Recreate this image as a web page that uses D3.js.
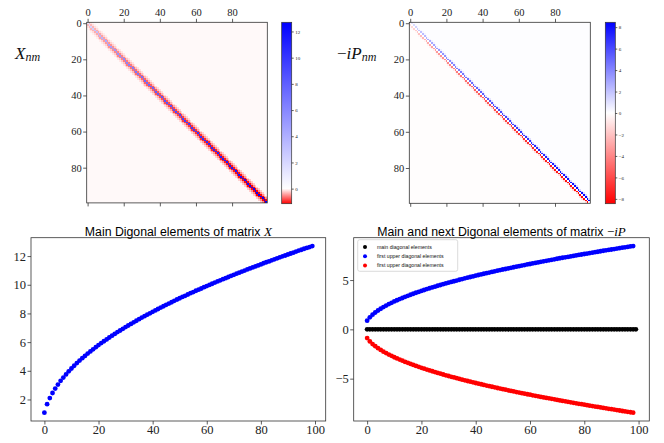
<!DOCTYPE html>
<html>
<head>
<meta charset="utf-8">
<script src="https://cdn.jsdelivr.net/npm/d3@7"></script>
<style>
    body { margin: 0; background: #fff; }
</style>
</head>
<body>
<div id="viz"></div>
<script>
// main diagonal of X (also the blue series of the bottom-left plot)
var xDiag = [1.08,1.67,2.10,2.45,2.76,3.04,3.30,3.53,3.75,3.96,
    4.16,4.35,4.54,4.71,4.88,5.04,5.20,5.35,5.50,5.65,
    5.79,5.93,6.06,6.19,6.32,6.45,6.57,6.70,6.81,6.93,
    7.05,7.16,7.27,7.38,7.49,7.60,7.71,7.81,7.91,8.01,
    8.11,8.21,8.31,8.41,8.50,8.60,8.69,8.78,8.88,8.97,
    9.06,9.15,9.23,9.32,9.41,9.49,9.58,9.66,9.74,9.83,
    9.91,9.99,10.07,10.15,10.23,10.31,10.39,10.46,10.54,10.62,
    10.69,10.77,10.84,10.92,10.99,11.07,11.14,11.21,11.28,11.35,
    11.42,11.50,11.57,11.63,11.70,11.77,11.84,11.91,11.98,12.04,
    12.11,12.18,12.24,12.31,12.38,12.44,12.51,12.57,12.63,12.70];

// off-diagonal bands of X (symmetric)
var xOff1 = [-0.30,-0.32,-0.34,-0.35,-0.37,-0.39,-0.40,-0.42,-0.43,-0.45,
    -0.46,-0.48,-0.49,-0.50,-0.51,-0.53,-0.54,-0.55,-0.56,-0.57,
    -0.58,-0.59,-0.60,-0.61,-0.62,-0.63,-0.64,-0.65,-0.66,-0.67,
    -0.68,-0.69,-0.70,-0.71,-0.72,-0.73,-0.73,-0.74,-0.75,-0.76,
    -0.77,-0.78,-0.78,-0.79,-0.80,-0.81,-0.82,-0.82,-0.83,-0.84,
    -0.85,-0.85,-0.86,-0.87,-0.87,-0.88,-0.89,-0.90,-0.90,-0.91,
    -0.92,-0.92,-0.93,-0.94,-0.94,-0.95,-0.96,-0.96,-0.97,-0.98,
    -0.98,-0.99,-1.00,-1.00,-1.01,-1.01,-1.02,-1.03,-1.03,-1.04,
    -1.04,-1.05,-1.06,-1.06,-1.07,-1.07,-1.08,-1.09,-1.09,-1.10,
    -1.10,-1.11,-1.11,-1.12,-1.13,-1.13,-1.14,-1.14,-1.15];
var xOff2 = [-0.13,-0.14,-0.15,-0.16,-0.17,-0.17,-0.18,-0.19,-0.20,-0.20,
    -0.21,-0.21,-0.22,-0.23,-0.23,-0.24,-0.24,-0.25,-0.25,-0.26,
    -0.26,-0.27,-0.27,-0.28,-0.28,-0.29,-0.29,-0.29,-0.30,-0.30,
    -0.31,-0.31,-0.31,-0.32,-0.32,-0.33,-0.33,-0.33,-0.34,-0.34,
    -0.35,-0.35,-0.35,-0.36,-0.36,-0.36,-0.37,-0.37,-0.37,-0.38,
    -0.38,-0.38,-0.39,-0.39,-0.39,-0.40,-0.40,-0.40,-0.41,-0.41,
    -0.41,-0.42,-0.42,-0.42,-0.42,-0.43,-0.43,-0.43,-0.44,-0.44,
    -0.44,-0.45,-0.45,-0.45,-0.45,-0.46,-0.46,-0.46,-0.46,-0.47,
    -0.47,-0.47,-0.48,-0.48,-0.48,-0.48,-0.49,-0.49,-0.49,-0.49,
    -0.50,-0.50,-0.50,-0.50,-0.51,-0.51,-0.51,-0.51];
var xOff3 = [-0.06,-0.06,-0.07,-0.07,-0.07,-0.08,-0.08,-0.08,-0.09,-0.09,
    -0.09,-0.10,-0.10,-0.10,-0.10,-0.11,-0.11,-0.11,-0.11,-0.11,
    -0.12,-0.12,-0.12,-0.12,-0.12,-0.13,-0.13,-0.13,-0.13,-0.13,
    -0.14,-0.14,-0.14,-0.14,-0.14,-0.15,-0.15,-0.15,-0.15,-0.15,
    -0.15,-0.16,-0.16,-0.16,-0.16,-0.16,-0.16,-0.16,-0.17,-0.17,
    -0.17,-0.17,-0.17,-0.17,-0.17,-0.18,-0.18,-0.18,-0.18,-0.18,
    -0.18,-0.18,-0.19,-0.19,-0.19,-0.19,-0.19,-0.19,-0.19,-0.20,
    -0.20,-0.20,-0.20,-0.20,-0.20,-0.20,-0.20,-0.21,-0.21,-0.21,
    -0.21,-0.21,-0.21,-0.21,-0.21,-0.21,-0.22,-0.22,-0.22,-0.22,
    -0.22,-0.22,-0.22,-0.22,-0.23,-0.23,-0.23];
var xFar = -0.025;

// -iP : main diagonal, first upper and first lower diagonal
var pDiag = [0,0,0,0,0,0,0,0,0,0, 0,0,0,0,0,0,0,0,0,0,
    0,0,0,0,0,0,0,0,0,0, 0,0,0,0,0,0,0,0,0,0,
    0,0,0,0,0,0,0,0,0,0, 0,0,0,0,0,0,0,0,0,0,
    0,0,0,0,0,0,0,0,0,0, 0,0,0,0,0,0,0,0,0,0,
    0,0,0,0,0,0,0,0,0,0, 0,0,0,0,0,0,0,0,0,0];
var pUpper = [0.88,1.22,1.49,1.71,1.91,2.09,2.26,2.41,2.56,2.69,
    2.83,2.95,3.07,3.18,3.30,3.40,3.51,3.61,3.71,3.80,
    3.90,3.99,4.08,4.17,4.25,4.33,4.42,4.50,4.58,4.66,
    4.73,4.81,4.88,4.95,5.03,5.10,5.17,5.24,5.31,5.37,
    5.44,5.51,5.57,5.64,5.70,5.76,5.82,5.88,5.95,6.01,
    6.07,6.12,6.18,6.24,6.30,6.36,6.41,6.47,6.52,6.58,
    6.63,6.69,6.74,6.79,6.85,6.90,6.95,7.00,7.05,7.10,
    7.16,7.21,7.26,7.30,7.35,7.40,7.45,7.50,7.55,7.59,
    7.64,7.69,7.74,7.78,7.83,7.87,7.92,7.97,8.01,8.06,
    8.10,8.14,8.19,8.23,8.28,8.32,8.36,8.41,8.45];
var pLower = [-0.88,-1.22,-1.49,-1.71,-1.91,-2.09,-2.26,-2.41,-2.56,-2.69,
    -2.83,-2.95,-3.07,-3.18,-3.30,-3.40,-3.51,-3.61,-3.71,-3.80,
    -3.90,-3.99,-4.08,-4.17,-4.25,-4.33,-4.42,-4.50,-4.58,-4.66,
    -4.73,-4.81,-4.88,-4.95,-5.03,-5.10,-5.17,-5.24,-5.31,-5.37,
    -5.44,-5.51,-5.57,-5.64,-5.70,-5.76,-5.82,-5.88,-5.95,-6.01,
    -6.07,-6.12,-6.18,-6.24,-6.30,-6.36,-6.41,-6.47,-6.52,-6.58,
    -6.63,-6.69,-6.74,-6.79,-6.85,-6.90,-6.95,-7.00,-7.05,-7.10,
    -7.16,-7.21,-7.26,-7.30,-7.35,-7.40,-7.45,-7.50,-7.55,-7.59,
    -7.64,-7.69,-7.74,-7.78,-7.83,-7.87,-7.92,-7.97,-8.01,-8.06,
    -8.10,-8.14,-8.19,-8.23,-8.28,-8.32,-8.36,-8.41,-8.45];
// faint second bands of -iP (heatmap only)
var pOff2Upper = [0.13,0.18,0.22,0.26,0.29,0.31,0.34,0.36,0.38,0.40,
    0.42,0.44,0.46,0.48,0.50,0.51,0.53,0.54,0.56,0.57,
    0.59,0.60,0.61,0.63,0.64,0.65,0.66,0.68,0.69,0.70,
    0.71,0.72,0.73,0.74,0.75,0.77,0.78,0.79,0.80,0.81,
    0.82,0.83,0.84,0.85,0.86,0.86,0.87,0.88,0.89,0.90,
    0.91,0.92,0.93,0.94,0.95,0.95,0.96,0.97,0.98,0.99,
    0.99,1.00,1.01,1.02,1.03,1.04,1.04,1.05,1.06,1.07,
    1.07,1.08,1.09,1.10,1.10,1.11,1.12,1.13,1.13,1.14,
    1.15,1.15,1.16,1.17,1.17,1.18,1.19,1.20,1.20,1.21,
    1.22,1.22,1.23,1.23,1.24,1.25,1.25,1.26];
var pOff2Lower = [-0.13,-0.18,-0.22,-0.26,-0.29,-0.31,-0.34,-0.36,-0.38,-0.40,
    -0.42,-0.44,-0.46,-0.48,-0.50,-0.51,-0.53,-0.54,-0.56,-0.57,
    -0.59,-0.60,-0.61,-0.63,-0.64,-0.65,-0.66,-0.68,-0.69,-0.70,
    -0.71,-0.72,-0.73,-0.74,-0.75,-0.77,-0.78,-0.79,-0.80,-0.81,
    -0.82,-0.83,-0.84,-0.85,-0.86,-0.86,-0.87,-0.88,-0.89,-0.90,
    -0.91,-0.92,-0.93,-0.94,-0.95,-0.95,-0.96,-0.97,-0.98,-0.99,
    -0.99,-1.00,-1.01,-1.02,-1.03,-1.04,-1.04,-1.05,-1.06,-1.07,
    -1.07,-1.08,-1.09,-1.10,-1.10,-1.11,-1.12,-1.13,-1.13,-1.14,
    -1.15,-1.15,-1.16,-1.17,-1.17,-1.18,-1.19,-1.20,-1.20,-1.21,
    -1.22,-1.22,-1.23,-1.23,-1.24,-1.25,-1.25,-1.26];
var pFarUpper = 0.08, pFarLower = -0.08;

var matTicks = [0, 20, 40, 60, 80];
var xBarTicks = [0, 2, 4, 6, 8, 10, 12];
var pBarTicks = [-8, -6, -4, -2, 0, 2, 4, 6, 8];
var plotXTicks = [0, 20, 40, 60, 80, 100];
var leftYTicks = [2, 4, 6, 8, 10, 12];
var rightYTicks = [-5, 0, 5];
var legendLabels = ["main diagonal elements", "first upper diagonal elements", "first upper diagonal elements"];

var SERIF = "'Liberation Serif', 'DejaVu Serif', serif";
var SANS = "'Liberation Sans', Arial, sans-serif";
var N = xDiag.length;

var svg = d3.select("#viz")
    .append("svg")
    .attr("width", 664)
    .attr("height", 443)
    .style("display", "block");

function xValue(i, j) {
    var k = Math.abs(i - j), m = Math.min(i, j);
    if (k == 0) return xDiag[i];
    if (k == 1) return xOff1[m];
    if (k == 2) return xOff2[m];
    if (k == 3) return xOff3[m];
    return xFar;
}

function pValue(i, j) {
    var d = j - i;
    if (d == 0) return pDiag[i];
    if (d == 1) return pUpper[i];
    if (d == -1) return pLower[j];
    if (d == 2) return pOff2Upper[i];
    if (d == -2) return pOff2Lower[j];
    return d > 0 ? pFarUpper : pFarLower;
}

function styleAxis(g, size) {
    g.attr("font-family", SERIF).attr("font-size", size);
    g.select(".domain").remove();
    g.selectAll(".tick line").attr("stroke", "#333").attr("stroke-width", 0.8);
    g.selectAll(".tick text").attr("fill", "#222");
}

function drawMatrix(valueAt, box, bar, barTicks) {
    var cells = [];
    for (var i = 0; i < N; i++)
        for (var j = 0; j < N; j++)
            cells.push({i: i, j: j, v: valueAt(i, j)});
    var vmin = d3.min(cells, function(d){ return d.v; });
    var vmax = d3.max(cells, function(d){ return d.v; });

    // bwr_r with centre at zero
    var color = d3.scaleLinear()
        .domain([vmin, 0, vmax])
        .range(["#ff0000", "#ffffff", "#0000ff"])
        .clamp(true);

    var x = d3.scaleLinear().domain([-0.5, N - 0.5]).range([box.left, box.left + box.size]);
    var y = d3.scaleLinear().domain([-0.5, N - 0.5]).range([box.top, box.top + box.size]);

    var g = svg.append("g");
    g.selectAll("rect")
        .data(cells)
        .enter()
        .append("rect")
        .attr("x", function(d){ return x(d.j - 0.5); })
        .attr("y", function(d){ return y(d.i - 0.5); })
        .attr("width", x(1) - x(0) + 0.05)
        .attr("height", y(1) - y(0) + 0.05)
        .attr("fill", function(d){ return color(d.v); })
        .attr("shape-rendering", "crispEdges");

    var top = svg.append("g").attr("transform", "translate(0," + box.top + ")")
        .call(d3.axisTop(x).tickValues(matTicks).tickSize(3.5).tickPadding(2.5));
    styleAxis(top, 10.5);
    var bottom = svg.append("g").attr("transform", "translate(0," + (box.top + box.size) + ")")
        .call(d3.axisBottom(x).tickValues(matTicks).tickSize(3.5).tickFormat(""));
    styleAxis(bottom, 10.5);
    var left = svg.append("g").attr("transform", "translate(" + box.left + ",0)")
        .call(d3.axisLeft(y).tickValues(matTicks).tickSize(3.5).tickPadding(1.5));
    styleAxis(left, 10.5);

    svg.append("rect")
        .attr("x", box.left).attr("y", box.top)
        .attr("width", box.size).attr("height", box.size)
        .attr("fill", "none").attr("stroke", "#333").attr("stroke-width", 0.8);

    // colorbar
    var cy = d3.scaleLinear().domain([vmin, vmax]).range([bar.bottom, bar.top]);
    var gid = "grad" + Math.round(bar.left);
    var grad = svg.append("defs").append("linearGradient")
        .attr("id", gid)
        .attr("x1", 0).attr("y1", 1).attr("x2", 0).attr("y2", 0);
    [vmin, 0, vmax].forEach(function(v){
        grad.append("stop")
            .attr("offset", (v - vmin) / (vmax - vmin))
            .attr("stop-color", color(v));
    });
    svg.append("rect")
        .attr("x", bar.left).attr("y", bar.top)
        .attr("width", bar.width).attr("height", bar.bottom - bar.top)
        .attr("fill", "url(#" + gid + ")")
        .attr("stroke", "#333").attr("stroke-width", 0.7);
    var ax = svg.append("g").attr("transform", "translate(" + (bar.left + bar.width) + ",0)")
        .call(d3.axisRight(cy).tickValues(barTicks).tickSize(2).tickPadding(1.5));
    styleAxis(ax, 5);
}

function drawScatter(box, yTicks, series, title, titleMath) {
    var allX = [], allY = [];
    series.forEach(function(s){
        s.values.forEach(function(v, i){ allX.push(i); allY.push(v); });
    });
    function pad(ext) { var m = (ext[1] - ext[0]) * 0.05; return [ext[0] - m, ext[1] + m]; }

    var x = d3.scaleLinear().domain(pad(d3.extent(allX))).range([box.left, box.right]);
    var y = d3.scaleLinear().domain(pad(d3.extent(allY))).range([box.bottom, box.top]);

    series.forEach(function(s){
        svg.append("g").selectAll("circle")
            .data(s.values)
            .enter()
            .append("circle")
            .attr("cx", function(d, i){ return x(i); })
            .attr("cy", function(d){ return y(d); })
            .attr("r", 2.4)
            .attr("fill", s.color);
    });

    var gx = svg.append("g").attr("transform", "translate(0," + box.bottom + ")")
        .call(d3.axisBottom(x).tickValues(plotXTicks).tickSize(3.5).tickPadding(1));
    styleAxis(gx, 12.5);
    var gy = svg.append("g").attr("transform", "translate(" + box.left + ",0)")
        .call(d3.axisLeft(y).tickValues(yTicks).tickSize(3.5).tickPadding(1.5));
    styleAxis(gy, 12.5);

    svg.append("rect")
        .attr("x", box.left).attr("y", box.top)
        .attr("width", box.right - box.left).attr("height", box.bottom - box.top)
        .attr("fill", "none").attr("stroke", "#333").attr("stroke-width", 0.8);

    var t = svg.append("text")
        .attr("x", (box.left + box.right) / 2)
        .attr("y", 236)
        .attr("text-anchor", "middle")
        .attr("font-family", SANS)
        .attr("font-size", 12.3)
        .attr("fill", "#000")
        .text(title);
    t.append("tspan")
        .attr("font-family", SERIF)
        .attr("font-size", 13)
        .text(titleMath[0]);
    t.append("tspan")
        .attr("font-family", SERIF)
        .attr("font-style", "italic")
        .attr("font-size", 13)
        .text(titleMath[1]);
    return {x: x, y: y};
}

function mathLabel(xPos, prefix, letter) {
    var t = svg.append("text")
        .attr("x", xPos).attr("y", 58.5)
        .attr("font-family", SERIF)
        .attr("font-size", 17)
        .attr("fill", "#111");
    if (prefix) t.append("tspan").text(prefix);
    t.append("tspan").attr("font-style", "italic").text(letter);
    t.append("tspan").attr("font-style", "italic").attr("font-size", 12).attr("dy", 2.5).text("nm");
}

drawMatrix(xValue, {left: 86.7, top: 22.3, size: 180.6},
    {left: 281.7, width: 10, top: 22.3, bottom: 203.7}, xBarTicks);
drawMatrix(pValue, {left: 409.3, top: 22.3, size: 181},
    {left: 605.3, width: 10, top: 22.3, bottom: 203.7}, pBarTicks);

mathLabel(15, "", "X");
mathLabel(337, "\u2212", "iP");

drawScatter({left: 31, right: 325.7, top: 237.7, bottom: 421}, leftYTicks,
    [{values: xDiag, color: "#0000ff"}],
    "Main Digonal elements of matrix ", ["", "X"]);

drawScatter({left: 353.7, right: 649.3, top: 237.7, bottom: 421}, rightYTicks,
    [{values: pDiag, color: "#000000"},
     {values: pUpper, color: "#0000ff"},
     {values: pLower, color: "#ff0000"}],
    "Main and next Digonal elements of matrix ", ["\u2212", "iP"]);

// legend
var legendColors = ["#000000", "#0000ff", "#ff0000"];
var lg = svg.append("g").attr("transform", "translate(357.7,239.7)");
lg.append("rect")
    .attr("width", 100).attr("height", 31.6)
    .attr("rx", 2)
    .attr("fill", "#fff").attr("fill-opacity", 0.8)
    .attr("stroke", "#ccc").attr("stroke-width", 0.7);
var items = lg.selectAll("g.item")
    .data(legendLabels)
    .enter()
    .append("g")
    .attr("transform", function(d, i){ return "translate(0," + (7.3 + i * 9.2) + ")"; });
items.append("circle")
    .attr("cx", 7.3)
    .attr("r", 2)
    .attr("fill", function(d, i){ return legendColors[i]; });
items.append("text")
    .attr("x", 19.3)
    .attr("dy", "0.35em")
    .attr("font-family", SANS)
    .attr("font-size", 5.2)
    .attr("fill", "#111")
    .text(function(d){ return d; });
</script>
</body>
</html>
